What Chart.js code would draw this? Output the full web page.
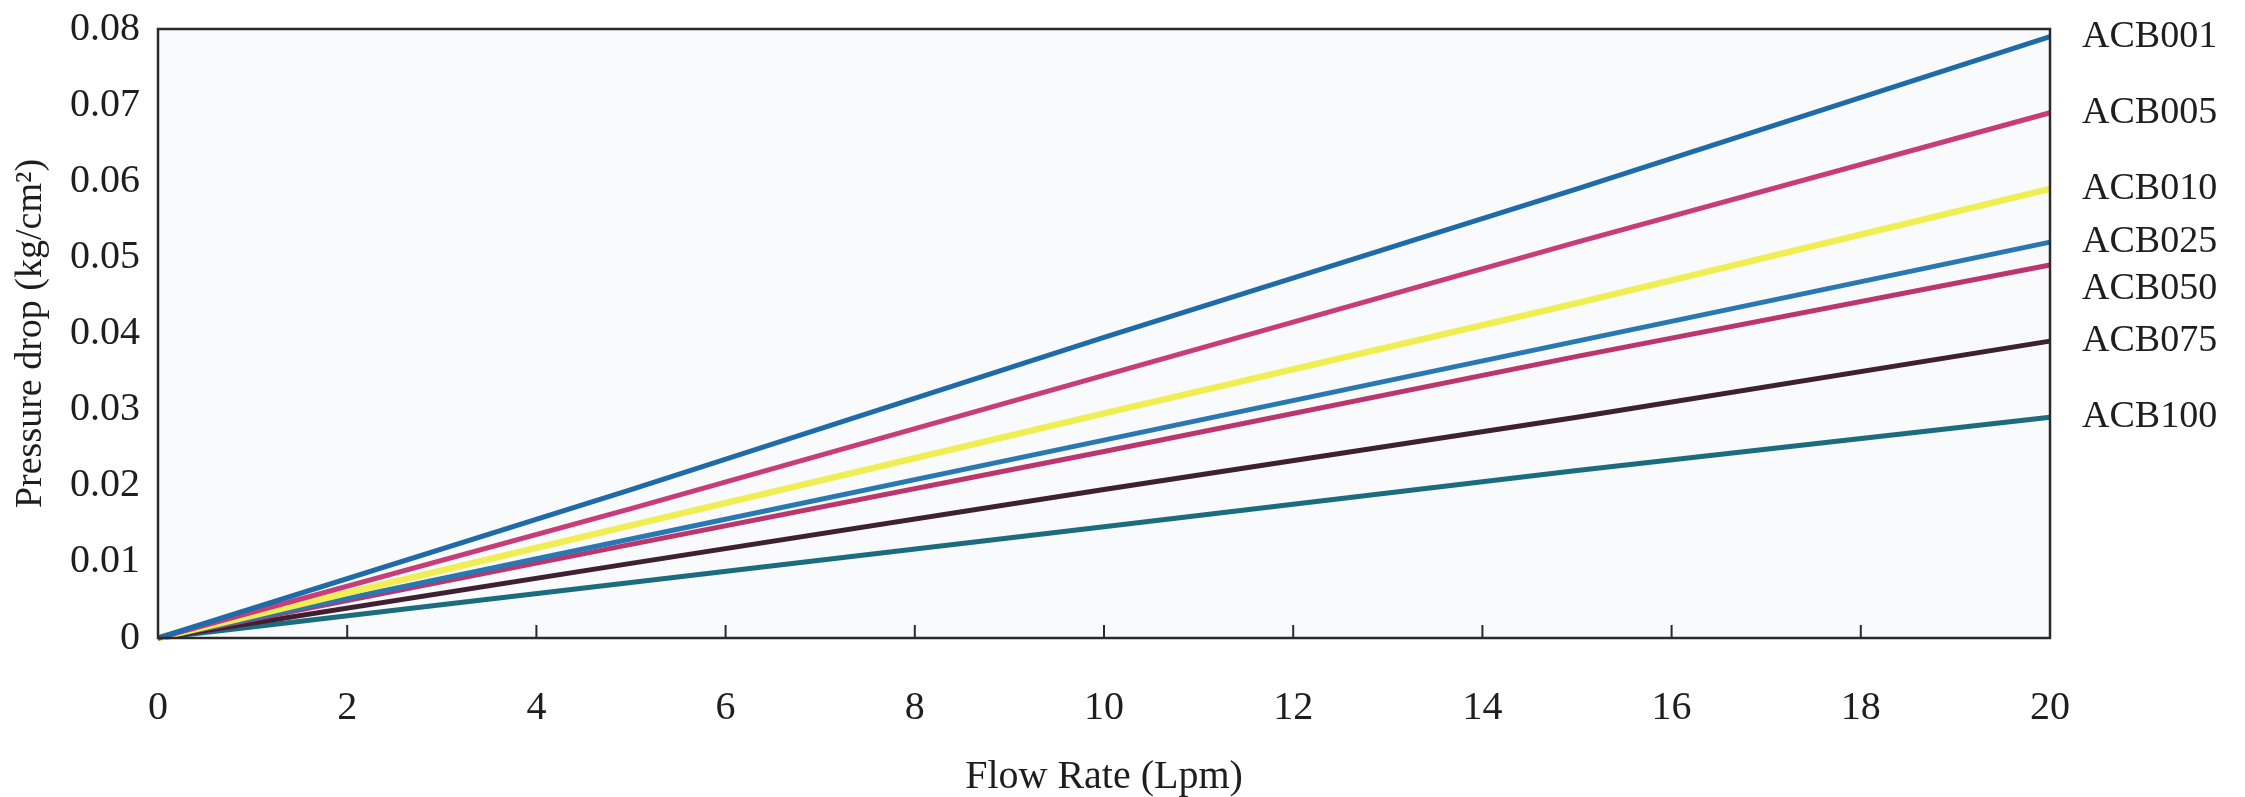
<!DOCTYPE html>
<html>
<head>
<meta charset="utf-8">
<script src="https://cdn.jsdelivr.net/npm/chart.js@4.4.1/dist/chart.umd.min.js"></script>
<style>
  html, body { margin: 0; padding: 0; background: #ffffff; }
  #wrap { width: 2245px; height: 797px; }
</style>
</head>
<body>
<div id="wrap"><canvas id="pdChart" width="2245" height="797"></canvas></div>
<script>
// values
const flowRate = [0, 5, 10, 15, 20];
const acb001 = [0, 0.0195, 0.0395, 0.059, 0.079];
const acb005 = [0, 0.017, 0.0345, 0.052, 0.069];
const acb010 = [0, 0.0148, 0.0295, 0.044, 0.059];
const acb025 = [0, 0.013, 0.026, 0.039, 0.052];
const acb050 = [0, 0.0123, 0.0245, 0.037, 0.049];
const acb075 = [0, 0.0098, 0.0195, 0.029, 0.039];
const acb100 = [0, 0.0073, 0.0146, 0.022, 0.029];

const seriesNames = ['ACB001', 'ACB005', 'ACB010', 'ACB025', 'ACB050', 'ACB075', 'ACB100'];
const seriesValues = [acb001, acb005, acb010, acb025, acb050, acb075, acb100];
const seriesColors = ['#1f6aa8', '#c83c78', '#f0ee52', '#2a78b2', '#bc356c', '#3e2030', '#1c6c80'];
const seriesWidths = [5, 5, 6.5, 5, 5, 5, 5];

const xTickLabels = ['0', '2', '4', '6', '8', '10', '12', '14', '16', '18', '20'];
const yTickLabels = ['0', '0.01', '0.02', '0.03', '0.04', '0.05', '0.06', '0.07', '0.08'];

const FONT = "'Liberation Serif', 'DejaVu Serif', serif";
const INK = '#1e1e1e';

const datasets = seriesNames.map((name, i) => ({
  label: name,
  data: flowRate.map((x, j) => ({ x: x, y: seriesValues[i][j] })),
  borderColor: seriesColors[i],
  borderWidth: seriesWidths[i],
  pointRadius: 0,
  fill: false,
  tension: 0,
  clip: false
}));

// plot background, box and short inward ticks on the bottom axis
const framePlugin = {
  id: 'frame',
  beforeDraw(chart) {
    const a = chart.chartArea;
    const c = chart.ctx;
    c.save();
    c.fillStyle = '#f8fafb';
    c.fillRect(a.left, a.top, a.right - a.left, a.bottom - a.top);
    c.restore();
  },
  afterDatasetsDraw(chart) {
    const a = chart.chartArea;
    const c = chart.ctx;
    const xs = chart.scales.x;
    c.save();
    c.strokeStyle = '#2a2a2a';
    c.lineWidth = 2.5;
    c.strokeRect(a.left, a.top, a.right - a.left, a.bottom - a.top);
    c.lineWidth = 2;
    xs.ticks.forEach(t => {
      if (t.value <= 0 || t.value >= 20) return;
      const px = xs.getPixelForValue(t.value);
      c.beginPath();
      c.moveTo(px, a.bottom);
      c.lineTo(px, a.bottom - 13);
      c.stroke();
    });
    c.restore();
  }
};

// series names at the right end of each line, nudged apart when they crowd
const endLabelPlugin = {
  id: 'endLabels',
  afterDraw(chart) {
    const ys = chart.scales.y;
    const c = chart.ctx;
    const gap = 47;
    let pos = seriesValues.map(v => ys.getPixelForValue(v[v.length - 1]));
    for (let i = 1; i < pos.length; i++) {
      if (pos[i] < pos[i - 1] + gap) pos[i] = pos[i - 1] + gap;
    }
    c.save();
    c.font = '38px ' + FONT;
    c.fillStyle = INK;
    c.textAlign = 'left';
    c.textBaseline = 'middle';
    seriesNames.forEach((n, i) => {
      c.fillText(n, chart.chartArea.right + 32, pos[i]);
    });
    c.restore();
  }
};

const ctx = document.getElementById('pdChart').getContext('2d');
const chart = new Chart(ctx, {
  type: 'line',
  data: { datasets: datasets },
  options: {
    responsive: false,
    animation: false,
    layout: { padding: { top: 29, right: 195, bottom: 0, left: 0 } },
    plugins: {
      legend: { display: false },
      tooltip: { enabled: false }
    },
    scales: {
      x: {
        type: 'linear',
        min: 0,
        max: 20,
        grid: { display: false, drawTicks: false },
        border: { display: false },
        ticks: {
          stepSize: 2,
          padding: 46,
          color: INK,
          font: { family: FONT, size: 40 },
          maxRotation: 0,
          callback: (v) => xTickLabels[Math.round(v / 2)]
        },
        title: {
          display: true,
          text: 'Flow Rate (Lpm)',
          color: INK,
          font: { family: FONT, size: 40, lineHeight: 1 },
          padding: { top: 0, bottom: 0 }
        },
        afterFit(scale) { scale.height = 159; }
      },
      y: {
        type: 'linear',
        min: 0,
        max: 0.08,
        grid: { display: false, drawTicks: false },
        border: { display: false },
        ticks: {
          stepSize: 0.01,
          padding: 18,
          color: INK,
          font: { family: FONT, size: 40 },
          callback: (v) => yTickLabels[Math.round(v * 100)]
        },
        title: {
          display: true,
          text: 'Pressure drop (kg/cm²)',
          color: INK,
          font: { family: FONT, size: 38, lineHeight: 1 },
          padding: { top: 12, bottom: 0 }
        },
        afterFit(scale) {
          scale.width = 158;
          scale.paddingTop = 0;
          scale.paddingBottom = 0;
        }
      }
    }
  },
  plugins: [framePlugin, endLabelPlugin]
});
</script>
</body>
</html>
